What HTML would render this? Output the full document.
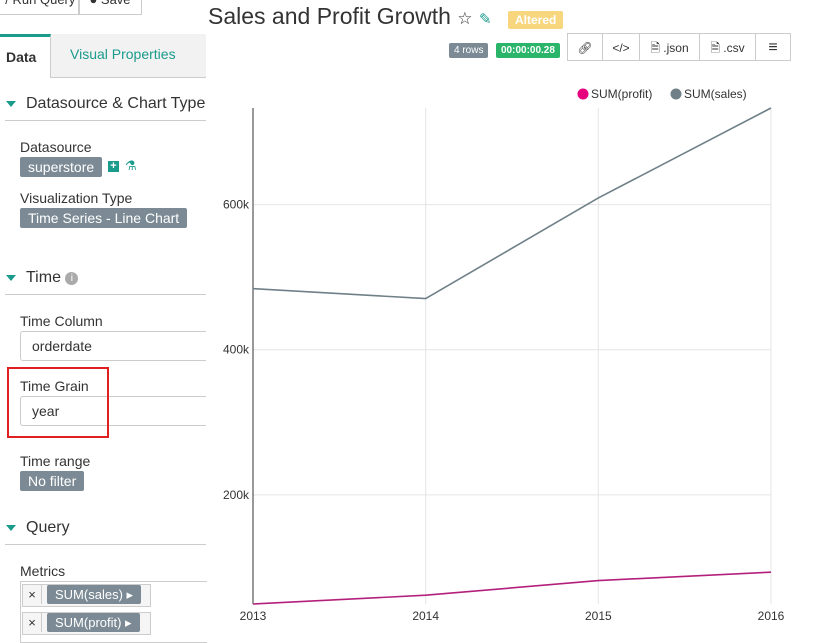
<!DOCTYPE html>
<html><head><meta charset="utf-8"><style>
body{margin:0;width:815px;height:635px;overflow:hidden;background:#fff;font-family:"Liberation Sans",sans-serif;color:#333;position:relative}
.a{position:absolute}
.lbl{font-size:14px;color:#333}
.tag{background:#7b8a94;color:#fff;font-size:14px;padding:2px 8px;border-radius:2px}
.sec{font-size:16px;color:#333}
.tri{display:inline-block;width:0;height:0;border-left:5px solid transparent;border-right:5px solid transparent;border-top:6px solid #1a9b8c;margin-right:10px;vertical-align:middle}
.inp{border:1px solid #ccc;border-right:none;border-radius:3px 0 0 3px;background:#fff;font-size:14px;padding-left:11px;box-sizing:border-box}
.btn{border:1px solid #ccc;height:28px;top:33px;font-size:12px;text-align:center;line-height:28px;box-sizing:border-box;background:#fff}
</style></head><body>
<div class="a" style="left:0;top:0;width:206px;height:635px;background:#fff"></div>
<div class="a" style="left:-10px;top:-10px;width:88px;height:23px;border:1px solid #ccc;font-size:13px;text-align:right;line-height:18px">/ Run Query&nbsp;</div>
<div class="a" style="left:78px;top:-10px;width:62px;height:23px;border:1px solid #ccc;font-size:13px;line-height:18px;text-align:center">● Save</div>
<div class="a" style="left:0;top:34px;width:206px;height:43px;background:#f2f2f2;border-bottom:1px solid #ccc"></div>
<div class="a" style="left:0;top:34px;width:51px;height:44px;background:#fff;border-top:3px solid #1a9b8c;border-right:1px solid #ccc;font-weight:bold;font-size:14px;line-height:40px;padding-left:6px;box-sizing:border-box">Data</div>
<div class="a" style="left:70px;top:46px;font-size:14px;color:#1a9b8c">Visual Properties</div>
<div class="a sec" style="left:6px;top:95px"><span class="tri"></span>Datasource &amp; Chart Type</div>
<div class="a" style="left:5px;top:120px;width:201px;border-top:1px solid #ccc"></div>
<div class="a lbl" style="left:20px;top:139px">Datasource</div>
<div class="a tag" style="left:20px;top:157px">superstore</div>
<div class="a" style="left:108px;top:161px;width:11px;height:11px;background:#1a9b8c;color:#fff;font-size:11px;line-height:11px;text-align:center;font-weight:bold">+</div>
<div class="a" style="left:125px;top:158px;color:#1a9b8c;font-size:13px">⚗</div>
<div class="a lbl" style="left:20px;top:190px">Visualization Type</div>
<div class="a tag" style="left:20px;top:208px">Time Series - Line Chart</div>
<div class="a sec" style="left:6px;top:269px"><span class="tri"></span>Time <span style="display:inline-block;width:13px;height:13px;border-radius:50%;background:#aaa;color:#fff;font-size:10px;text-align:center;line-height:13px;vertical-align:1px">i</span></div>
<div class="a" style="left:5px;top:294px;width:201px;border-top:1px solid #ccc"></div>
<div class="a lbl" style="left:20px;top:313px">Time Column</div>
<div class="a inp" style="left:20px;top:331px;width:186px;height:30px;line-height:28px">orderdate</div>
<div class="a lbl" style="left:20px;top:378px">Time Grain</div>
<div class="a inp" style="left:20px;top:396px;width:186px;height:30px;line-height:28px">year</div>
<div class="a" style="left:7px;top:367px;width:98px;height:67px;border:2px solid #e02020"></div>
<div class="a lbl" style="left:20px;top:453px">Time range</div>
<div class="a tag" style="left:20px;top:471px">No filter</div>
<div class="a sec" style="left:6px;top:519px"><span class="tri"></span>Query</div>
<div class="a" style="left:5px;top:544px;width:201px;border-top:1px solid #ccc"></div>
<div class="a lbl" style="left:20px;top:563px">Metrics</div>
<div class="a" style="left:20px;top:581px;width:186px;height:60px;border:1px solid #ccc;border-right:none"></div>
<div class="a" style="left:22px;top:584px;width:127px;height:21px;border:1px solid #ccc;background:#f5f5f5;font-size:13px;line-height:19px"><span style="display:inline-block;width:18px;text-align:center;border-right:1px solid #ccc">×</span><span style="display:inline-block;background:#7b8a94;color:#fff;padding:0 8px;margin-left:5px;border-radius:2px">SUM(sales) ▸</span></div>
<div class="a" style="left:22px;top:612px;width:127px;height:21px;border:1px solid #ccc;background:#f5f5f5;font-size:13px;line-height:19px"><span style="display:inline-block;width:18px;text-align:center;border-right:1px solid #ccc">×</span><span style="display:inline-block;background:#7b8a94;color:#fff;padding:0 8px;margin-left:5px;border-radius:2px">SUM(profit) ▸</span></div>

<div class="a" style="left:208px;top:3px;font-size:23px;color:#333">Sales and Profit Growth <span style="font-size:17px">☆</span> <span style="color:#1a9b8c;font-size:15px">✎</span></div>
<div class="a" style="left:508px;top:11px;background:#f7d67e;color:#fff;font-size:12px;font-weight:bold;padding:2px 7px;border-radius:2px">Altered</div>
<div class="a" style="left:449px;top:43px;background:#7b8a94;color:#fff;font-size:10px;padding:2px 5px;border-radius:2px">4 rows</div>
<div class="a" style="left:496px;top:43px;background:#2ab56b;color:#fff;font-size:10px;font-weight:bold;padding:2px 5px;border-radius:2px">00:00:00.28</div>
<div class="a btn" style="left:567px;width:36px">🔗︎</div>
<div class="a btn" style="left:602px;width:38px">&lt;/&gt;</div>
<div class="a btn" style="left:639px;width:61px">🗎 .json</div>
<div class="a btn" style="left:699px;width:57px">🗎 .csv</div>
<div class="a btn" style="left:755px;width:36px;font-size:16px">≡</div>

<svg class="a" style="left:0;top:0" width="815" height="635" id="chart"></svg>
<script>
const years=["2013","2014","2015","2016"];
const profit=[49.5,61.6,81.8,93.4];
const sales=[484.2,470.5,609.2,733.2];
const yTicks=[200,400,600];
const svg=document.getElementById('chart');
const NS="http://www.w3.org/2000/svg";
const x0=253,x1=771,yb=604,yt=108,vmin=49.5,vmax=733.2;
const xs=i=>x0+(x1-x0)*i/(years.length-1);
const ys=v=>yb-(v-vmin)/(vmax-vmin)*(yb-yt);
function mk(t,a){const e=document.createElementNS(NS,t);for(const k in a)e.setAttribute(k,a[k]);svg.appendChild(e);return e;}
yTicks.forEach(v=>{
 const l=mk('line',{x1:x0,x2:x1,y1:ys(v),y2:ys(v),stroke:'#e5e5e5'});
 
 
 const t=mk('text',{x:x0-4,y:ys(v)+4,'text-anchor':'end','font-size':12,fill:'#333','font-family':'Liberation Sans'});
 t.textContent=v+'k';
 
 
});
years.forEach((y,i)=>{
 if(i>0){const l=mk('line',{x1:xs(i),x2:xs(i),y1:yt,y2:yb,stroke:'#e5e5e5'});
 
 }
 const t=mk('text',{x:xs(i),y:620,'text-anchor':'middle','font-size':12,fill:'#333','font-family':'Liberation Sans'});
 t.textContent=y;
 
 
});
const ax=mk('line',{x1:x0,x2:x0,y1:yt,y2:yb,stroke:'#333'});


const ps=mk('polyline',{points:sales.map((v,i)=>xs(i)+','+ys(v)).join(' '),fill:'none',stroke:'#6f8088','stroke-width':1.6});


const pp=mk('polyline',{points:profit.map((v,i)=>xs(i)+','+ys(v)).join(' '),fill:'none',stroke:'#b3207c','stroke-width':1.6});


[['SUM(profit)','#e6007e',583],['SUM(sales)','#6f8088',676]].forEach(d=>{
 const c=mk('circle',{cx:d[2],cy:94,r:5.5,fill:d[1]});
 
 
 const t=mk('text',{x:d[2]+8,y:98,'font-size':12,fill:'#333','font-family':'Liberation Sans'});
 t.textContent=d[0];
 
 
});
</script>
</body></html>
